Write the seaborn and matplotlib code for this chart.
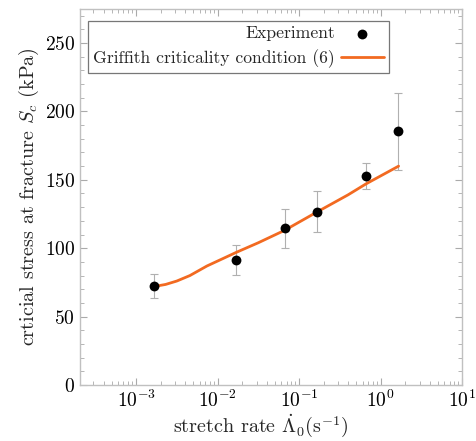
import matplotlib
matplotlib.use("Agg")
import matplotlib.pyplot as plt
import matplotlib.ticker as mticker
import seaborn as sns
import pandas as pd
import numpy as np

# experiment points
exp_rate = [1.66e-3, 0.0169, 0.0673, 0.166, 0.664, 1.64]
exp_stress = [72.5, 91.5, 114.5, 126.5, 153, 185.5]
exp_err = [9, 11, 14, 15, 9.5, 28]

# Griffith criticality condition curve
model_rate = [1.66e-3, 2.3e-3, 3.16e-3, 4.57e-3, 7.4e-3, 0.0117, 0.017,
              0.0316, 0.066, 0.166, 0.398, 0.66, 1.66]
model_stress = [72, 73.5, 76, 80, 87, 92.5, 97, 104, 113, 126.5, 139, 147, 160]

sns.set_style("ticks")
plt.rcParams['font.family'] = 'serif'
plt.rcParams['font.serif'] = ['cmr10', 'DejaVu Serif']
plt.rcParams['mathtext.fontset'] = 'cm'
plt.rcParams['axes.formatter.use_mathtext'] = True

fig = plt.figure(figsize=(4.76, 4.41), dpi=100)
ax = fig.add_axes([0.168, 0.127, 0.803, 0.853])

df_model = pd.DataFrame({'rate': model_rate, 'stress': model_stress})
df_exp = pd.DataFrame({'rate': exp_rate, 'stress': exp_stress, 'err': exp_err})

ax.errorbar(df_exp['rate'], df_exp['stress'], yerr=df_exp['err'], fmt='none',
            ecolor='#b0b0b0', elinewidth=0.8, capsize=3, capthick=0.8, zorder=1)
sns.lineplot(data=df_model, x='rate', y='stress', ax=ax, color='#f26a21',
             linewidth=2, label='Griffith criticality condition (6)', zorder=2)
sns.scatterplot(data=df_exp, x='rate', y='stress', ax=ax, color='black',
                s=50, edgecolor='black', linewidth=0, label='Experiment', zorder=3)

ax.set_xscale('log')
ax.set_xlim(2.05e-4, 10)
ax.set_ylim(0, 275)
ax.yaxis.set_major_locator(mticker.MultipleLocator(50))
ax.yaxis.set_minor_locator(mticker.MultipleLocator(10))
ax.xaxis.set_major_locator(mticker.LogLocator(base=10, numticks=10))
ax.xaxis.set_minor_locator(mticker.LogLocator(base=10, subs=np.arange(2, 10), numticks=10))
ax.xaxis.set_minor_formatter(mticker.NullFormatter())

ax.tick_params(which='both', direction='in', top=True, right=True, color='#aaaaaa',
               labelsize=14, labelcolor='black')
ax.tick_params(which='major', length=5, width=0.8)
ax.tick_params(which='minor', length=3, width=0.6)
for s in ax.spines.values():
    s.set_color('#c0c0c0')
    s.set_linewidth(1)

ax.set_xlabel(r'stretch rate $\dot{\Lambda}_0(\mathrm{s}^{-1})$', fontsize=14.5)
ax.set_ylabel(r'crticial stress at fracture $S_c$ (kPa)', fontsize=14.5, labelpad=3)
ax.xaxis.set_label_coords(0.472, -0.072)

handles, labels = ax.get_legend_handles_labels()
order = [labels.index('Experiment'), labels.index('Griffith criticality condition (6)')]
leg = ax.legend([handles[i] for i in order], [labels[i] for i in order],
                loc='upper left', bbox_to_anchor=(0.021, 0.968), borderaxespad=0,
                markerfirst=False, fontsize=12.7, frameon=True, fancybox=False,
                handlelength=2.4, handletextpad=0.35, labelspacing=0.45,
                borderpad=0.3, edgecolor='#555555')
leg.get_frame().set_linewidth(0.9)

fig.savefig('out.png', dpi=100)
